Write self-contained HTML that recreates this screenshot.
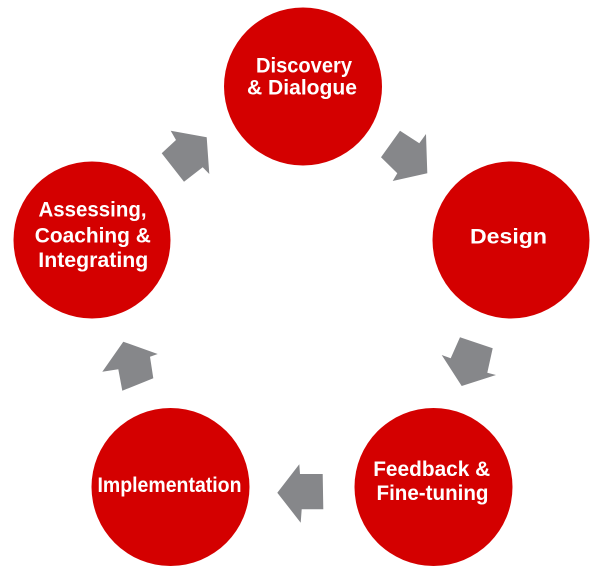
<!DOCTYPE html>
<html>
<head>
<meta charset="utf-8">
<style>
  html, body { margin: 0; padding: 0; background: #ffffff; }
  body { width: 600px; height: 574px; overflow: hidden; }
  svg { display: block; }
  text { font-family: "Liberation Sans", Arial, sans-serif; font-weight: bold; fill: #ffffff; font-size: 21.5px; text-anchor: middle; }
</style>
</head>
<body>
<svg width="600" height="574" viewBox="0 0 600 574" xmlns="http://www.w3.org/2000/svg">
  <!-- circles -->
  <g fill="#d40000">
    <circle cx="303" cy="86.5" r="79"/>
    <circle cx="511" cy="240" r="78.5"/>
    <circle cx="433.5" cy="487" r="79"/>
    <circle cx="170.5" cy="487" r="79"/>
    <circle cx="92" cy="240" r="78.5"/>
  </g>

  <!-- arrows -->
  <g fill="#86878a">
    <polygon points="170.7,130.7 206.7,137.3 209.3,174 202.7,167.3 184,181.7 161.7,153.3 176,140"/>
    <polygon points="400,130.7 419.3,143.3 426,134 427.3,173.3 392.7,181 397.3,173.3 381,157.3"/>
    <polygon points="460,337.3 492.7,348.3 487.3,372.7 496,375 461.7,386 441.7,355 450.7,358.3"/>
    <polygon points="277.3,492.7 299.3,464.3 300,474 322.7,474 323.3,509.3 301.7,509.3 300.7,522.7"/>
    <polygon points="123.3,341.7 157.7,354 150,356.7 153.3,378.3 122.3,390.7 118.3,369.3 102.3,371.7"/>
  </g>

  <!-- labels -->
  <text x="304" y="72.5" textLength="96" lengthAdjust="spacingAndGlyphs">Discovery</text>
  <text x="302" y="94.5" textLength="110" lengthAdjust="spacingAndGlyphs">&amp; Dialogue</text>

  <text x="508.5" y="243.5" textLength="77" lengthAdjust="spacingAndGlyphs">Design</text>

  <text x="431.7" y="476" textLength="117" lengthAdjust="spacingAndGlyphs">Feedback &amp;</text>
  <text x="432.5" y="500" textLength="112" lengthAdjust="spacingAndGlyphs">Fine-tuning</text>

  <text x="169.5" y="492" textLength="144" lengthAdjust="spacingAndGlyphs">Implementation</text>

  <text x="92.5" y="216.7" textLength="108" lengthAdjust="spacingAndGlyphs">Assessing,</text>
  <text x="92.8" y="242.5" textLength="116" lengthAdjust="spacingAndGlyphs">Coaching &amp;</text>
  <text x="93.3" y="267" textLength="110" lengthAdjust="spacingAndGlyphs">Integrating</text>
</svg>
</body>
</html>
